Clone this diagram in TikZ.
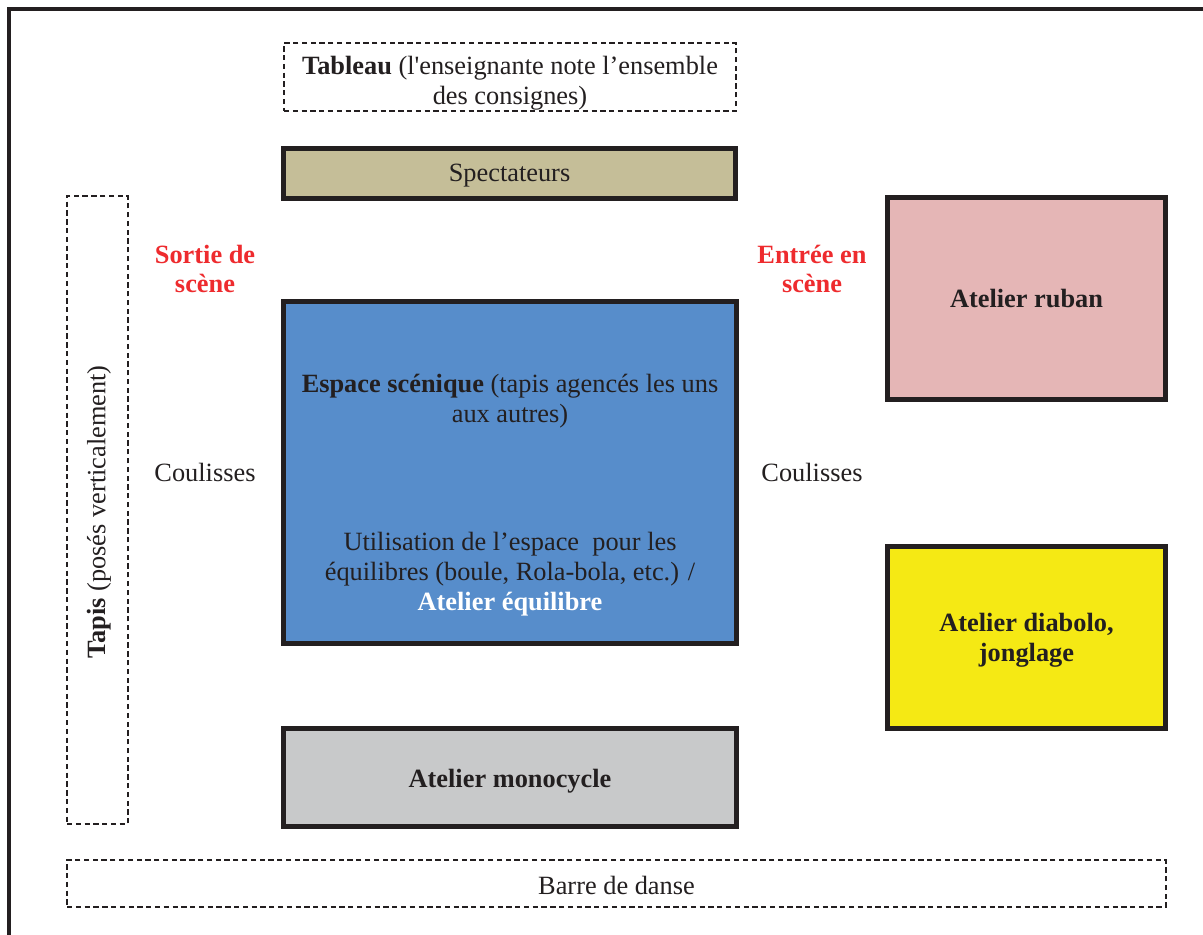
\documentclass[tikz,border=0pt]{standalone}
\usepackage{fontspec}
\setmainfont{Liberation Serif}
\definecolor{ink}{HTML}{231F20}
\definecolor{tan}{HTML}{C5BE98}
\definecolor{scene}{HTML}{578DCB}
\definecolor{ruban}{HTML}{E5B6B6}
\definecolor{diabolo}{HTML}{F5E914}
\definecolor{mono}{HTML}{C8C9CA}
\definecolor{rouge}{HTML}{EE2B2E}
\newcommand{\taille}{\fontsize{15}{17}\selectfont}
\tikzset{
	zone/.style={draw=ink, line width=2.8pt, inner sep=0pt, align=center},
	pointille/.style={draw=ink, densely dashed, line width=0.9pt, inner sep=0pt, align=center},
	gras/.style={font=\taille\bfseries},
	porte/.style={text=rouge, gras, align=center},
}
\begin{document}
\begin{tikzpicture}[x=0.02cm, y=-0.02cm, font=\taille, text=ink]
		\useasboundingbox[fill=white] (0,0) rectangle (1203,935);
		\draw[ink, line width=2.8pt] (9,935) -- (9,9) -- (1203,9);
		\node[pointille, minimum width=9.04cm, minimum height=1.36cm] (tableau) at (510,77) {};
		\node[align=center] (tableaulab) at (510,83) {\textbf{Tableau} (l\textquotesingle enseignante note l’ensemble\\des consignes)};
		\node[zone, fill=tan, minimum width=9.05cm, minimum height=1.0cm] (spect) at (509.5,173.5) {};
		\node (spectlab) at (509.5,176) {Spectateurs};
		\node[pointille, minimum width=1.22cm, minimum height=12.56cm] (tapis) at (97.5,510) {};
		\node[rotate=90] (tapislab) at (99,512) {\textbf{Tapis} (posés verticalement)};
		\node[porte] (sortie) at (205,269) {Sortie de\\scène};
		\node[porte] (entree) at (812,269) {Entrée en\\scène};
		\node (coulg) at (205,472) {Coulisses};
		\node (could) at (812,472) {Coulisses};
		\node[zone, fill=scene, minimum width=9.06cm, minimum height=6.84cm] (espace) at (510,472.5) {};
		\node[align=center] (espacelab) at (510,401) {\textbf{Espace scénique} (tapis agencés les uns\\aux autres)};
		\node[align=center] (equil) at (510,574) {Utilisation de l’espace\ \ pour les\\équilibres (boule, Rola-bola, etc.) /\\\textcolor{white}{\textbf{Atelier équilibre}}};
		\node[zone, fill=ruban, minimum width=5.56cm, minimum height=4.04cm, gras] (ruban) at (1026.5,298.5) {Atelier ruban};
		\node[zone, fill=diabolo, minimum width=5.56cm, minimum height=3.64cm] (diabolo) at (1026.5,637.5) {};
		\node[align=center, gras] (diabololab) at (1026.5,640.5) {Atelier diabolo,\\jonglage};
		\node[zone, fill=mono, minimum width=9.06cm, minimum height=1.96cm] (mono) at (510,777.5) {};
		\node[gras] (monolab) at (510,781) {Atelier monocycle};
		\node[pointille, minimum width=21.98cm, minimum height=0.94cm] (barre) at (616.5,883.5) {};
		\node (barrelab) at (616.5,885) {Barre de danse};
	\end{tikzpicture}
\end{document}
